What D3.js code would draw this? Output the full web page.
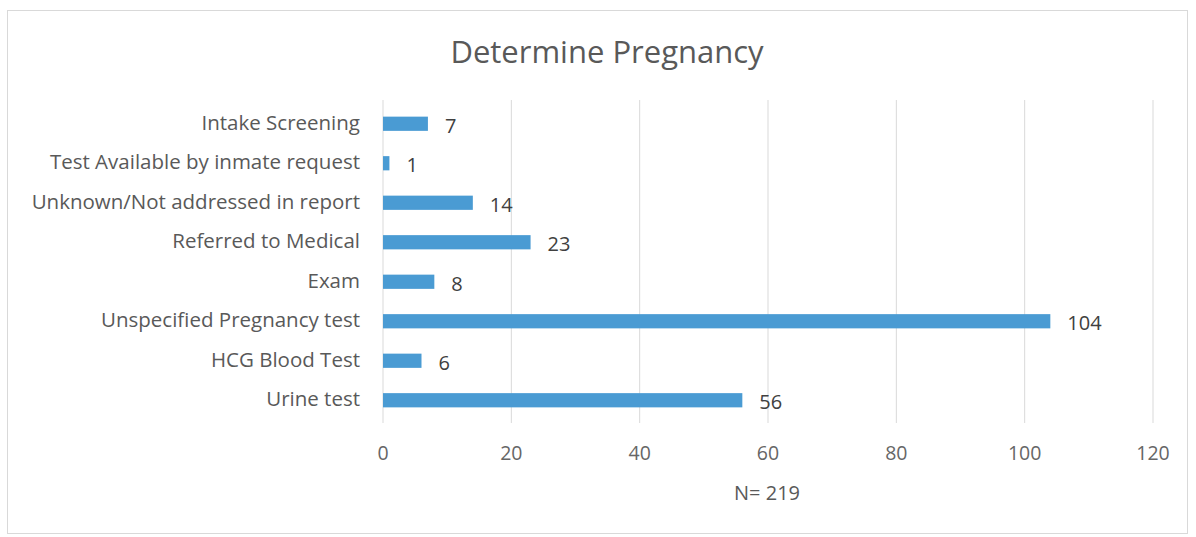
<!DOCTYPE html>
<html lang="en">
  <head>
    <meta charset="UTF-8" />
    <title>Determine Pregnancy</title>
    <script src="https://d3js.org/d3.v7.min.js"></script>
    <style>
      body {
        margin: 0;
        padding: 0;
        background: #fff;
        font-family: "Open Sans", Arial, sans-serif;
      }
      .grid line {
        stroke: #d9d9d9;
        stroke-width: 1;
      }
      .cat {
        fill: #595959;
        font-size: 20.5px;
        text-anchor: end;
      }
      .tick-label {
        fill: #666;
        font-size: 19.5px;
        text-anchor: middle;
      }
      .value {
        fill: #404040;
        font-size: 20px;
      }
    </style>
  </head>
  <body>
    <div id="chart"></div>
    <script>
      const categories = [
        "Intake Screening",
        "Test Available by inmate request",
        "Unknown/Not addressed in report",
        "Referred to Medical",
        "Exam",
        "Unspecified Pregnancy test",
        "HCG Blood Test",
        "Urine test",
      ];
      const counts = [7, 1, 14, 23, 8, 104, 6, 56];
      const xTicks = [0, 20, 40, 60, 80, 100, 120];

      const width = 1196;
      const height = 537;

      const svg = d3
        .select("#chart")
        .append("svg")
        .attr("width", width)
        .attr("height", height);

      // chart frame
      svg
        .append("rect")
        .attr("x", 7.5)
        .attr("y", 10.5)
        .attr("width", 1180)
        .attr("height", 523)
        .attr("fill", "none")
        .attr("stroke", "#d9d9d9");

      const x = d3.scaleLinear().domain([0, 120]).range([383, 1153]);
      const y = d3
        .scaleBand()
        .domain(categories)
        .range([104, 420])
        .paddingInner(0.64)
        .paddingOuter(0.32);

      // gridlines
      svg
        .append("g")
        .attr("class", "grid")
        .selectAll("line")
        .data(xTicks)
        .enter()
        .append("line")
        .attr("x1", (d) => x(d))
        .attr("x2", (d) => x(d))
        .attr("y1", 100)
        .attr("y2", 423);

      // title
      svg
        .append("text")
        .attr("x", 607)
        .attr("y", 63)
        .attr("text-anchor", "middle")
        .style("font-size", "31px")
        .style("fill", "#595959")
        .text("Determine Pregnancy");

      // bars
      svg
        .selectAll("rect.bar")
        .data(counts)
        .enter()
        .append("rect")
        .attr("class", "bar")
        .attr("x", x(0))
        .attr("y", (d, i) => y(categories[i]))
        .attr("width", (d) => x(d) - x(0))
        .attr("height", y.bandwidth())
        .attr("fill", "#4a9bd3");

      // value labels
      svg
        .selectAll("text.value")
        .data(counts)
        .enter()
        .append("text")
        .attr("class", "value")
        .attr("x", (d) => x(d) + 17)
        .attr("y", (d, i) => y(categories[i]) + y.bandwidth() / 2 + 9)
        .text((d) => d);

      // category labels
      svg
        .selectAll("text.cat")
        .data(categories)
        .enter()
        .append("text")
        .attr("class", "cat")
        .attr("x", 360)
        .attr("y", (d) => y(d) + y.bandwidth() / 2 + 6)
        .text((d) => d);

      // x tick labels
      svg
        .selectAll("text.tick-label")
        .data(xTicks)
        .enter()
        .append("text")
        .attr("class", "tick-label")
        .attr("x", (d) => x(d))
        .attr("y", 460)
        .text((d) => d);

      // axis title
      svg
        .append("text")
        .attr("x", 767)
        .attr("y", 500)
        .attr("text-anchor", "middle")
        .style("font-size", "20px")
        .style("fill", "#595959")
        .text("N= 219");
    </script>
  </body>
</html>
